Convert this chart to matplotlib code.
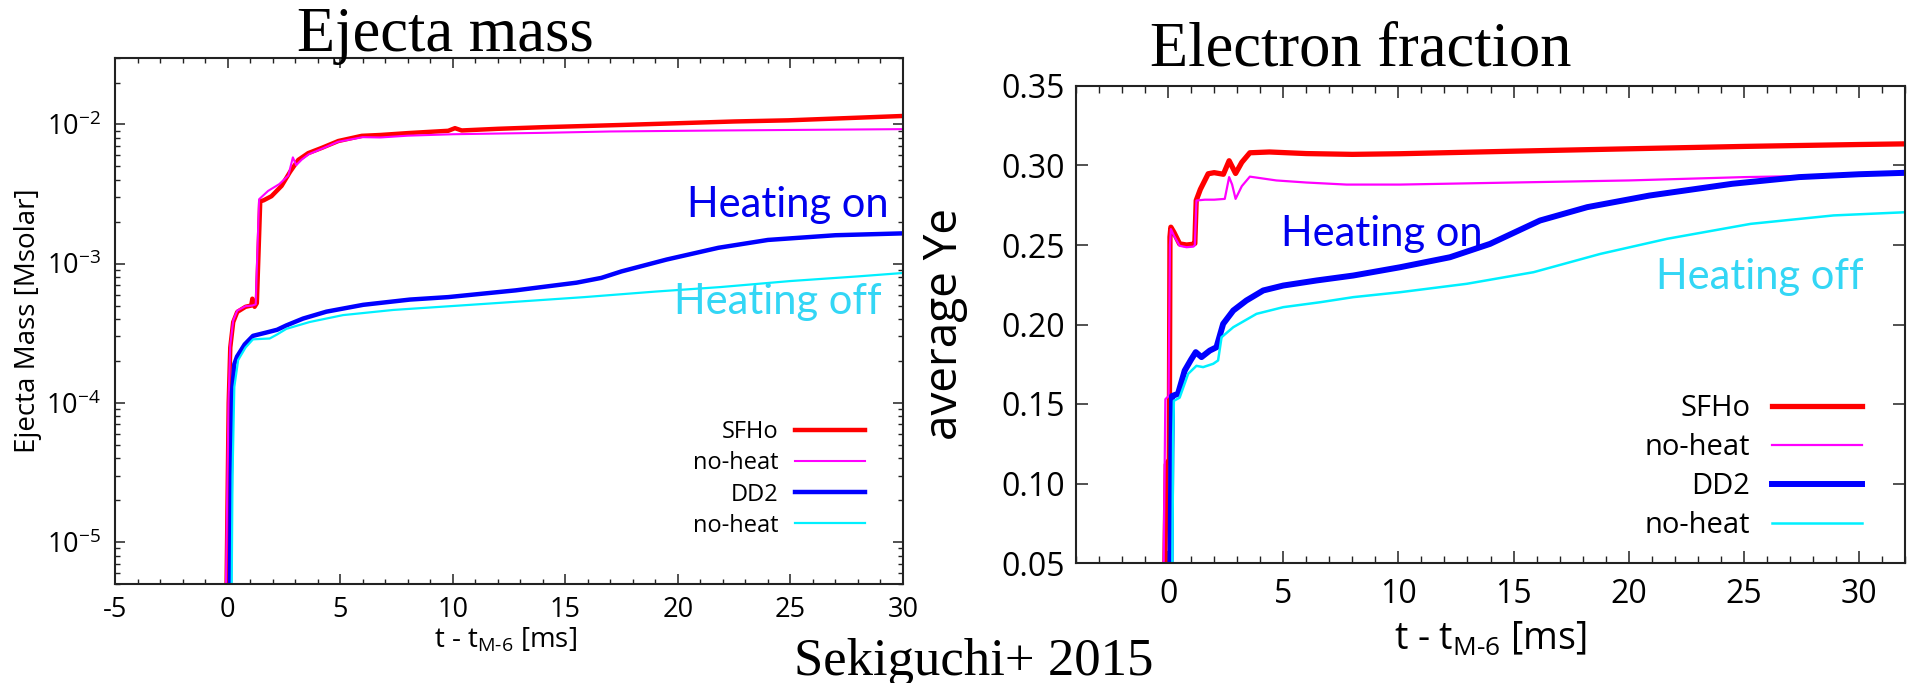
import matplotlib
matplotlib.use('Agg')
import matplotlib.pyplot as plt
from matplotlib.ticker import MultipleLocator, FormatStrFormatter

plt.rcParams['font.family'] = ['Open Sans', 'DejaVu Sans']
plt.rcParams['mathtext.fontset'] = 'custom'
plt.rcParams['mathtext.rm'] = 'Open Sans'
plt.rcParams['mathtext.it'] = 'Open Sans:italic'
plt.rcParams['mathtext.default'] = 'regular'
plt.rcParams['axes.unicode_minus'] = False

# ---- left panel: ejecta mass [Msolar] vs t - t_M-6 [ms]
sfho_t = [-0.05, 0.0, 0.05, 0.12, 0.25, 0.43, 0.8, 1.05, 1.1, 1.2, 1.3, 1.45, 1.6,
          1.95, 2.4, 2.77, 3.14, 3.58, 4.18, 4.92, 5.96, 6.8, 8.04, 9.8, 10.1,
          10.4, 12, 14, 17.4, 20, 22.5, 24.9, 27.5, 30]
sfho_m = [4e-6, 2e-5, 1e-4, 2.5e-4, 3.8e-4, 4.5e-4, 4.9e-4, 5.0e-4, 5.6e-4, 4.9e-4,
          5.2e-4, 2.8e-3, 2.85e-3, 3.05e-3, 3.62e-3, 4.55e-3, 5.56e-3, 6.22e-3,
          6.78e-3, 7.6e-3, 8.28e-3, 8.4e-3, 8.67e-3, 9.0e-3, 9.4e-3, 9.05e-3,
          9.3e-3, 9.55e-3, 9.9e-3, 1.02e-2, 1.05e-2, 1.07e-2, 1.11e-2, 1.15e-2]
sfho_nh_t = [-0.08, -0.02, 0.04, 0.12, 0.25, 0.43, 0.8, 1.1, 1.25, 1.4, 1.8, 2.3,
             2.7, 2.9, 3.05, 3.3, 3.6, 4.2, 4.9, 6.0, 6.8, 8.0, 10, 12, 14, 17,
             22, 26, 30]
sfho_nh_m = [4e-6, 2e-5, 1e-4, 2.6e-4, 3.9e-4, 4.6e-4, 4.95e-4, 5.0e-4, 5.1e-4,
             2.9e-3, 3.33e-3, 3.73e-3, 4.3e-3, 5.8e-3, 5.1e-3, 5.6e-3, 6.1e-3,
             6.7e-3, 7.5e-3, 8.1e-3, 8.06e-3, 8.3e-3, 8.5e-3, 8.6e-3, 8.7e-3,
             8.9e-3, 9.05e-3, 9.15e-3, 9.25e-3]
dd2_t = [0.1, 0.15, 0.2, 0.3, 0.42, 0.76, 1.13, 1.72, 2.2, 2.61, 3.35, 4.39, 6.02,
         8.1, 9.8, 12.8, 15.5, 16.6, 17.5, 19.5, 21.8, 24, 27, 30]
dd2_m = [4e-6, 3e-5, 1.2e-4, 1.9e-4, 2.15e-4, 2.63e-4, 3.03e-4, 3.2e-4, 3.35e-4,
         3.6e-4, 4.03e-4, 4.52e-4, 5.06e-4, 5.52e-4, 5.75e-4, 6.43e-4, 7.3e-4,
         7.9e-4, 8.8e-4, 1.07e-3, 1.3e-3, 1.48e-3, 1.6e-3, 1.65e-3]
dd2_nh_t = [0.18, 0.22, 0.3, 0.47, 0.8, 1.13, 1.5, 1.87, 2.2, 2.61, 3.0, 3.65, 5.13,
            7.36, 10.3, 13, 15.85, 19, 21.9, 25, 28, 30]
dd2_nh_m = [4e-6, 3e-5, 1.3e-4, 2.03e-4, 2.5e-4, 2.86e-4, 2.88e-4, 2.9e-4, 3.1e-4,
            3.4e-4, 3.55e-4, 3.81e-4, 4.27e-4, 4.65e-4, 5.0e-4, 5.35e-4, 5.75e-4,
            6.3e-4, 6.79e-4, 7.5e-4, 8.1e-4, 8.57e-4]

# ---- right panel: average Ye vs t - t_M-6 [ms]
sfho_ye_t = [-0.15, -0.08, 0.05, 0.08, 0.12, 0.25, 0.5, 0.8, 1.1, 1.16, 1.22, 1.4,
             1.74, 2.0, 2.4, 2.65, 2.93, 3.2, 3.55, 4.4, 6, 8, 10.07, 15, 20, 25,
             30, 32]
sfho_ye = [0.04, 0.112, 0.115, 0.255, 0.2612, 0.258, 0.2507, 0.250, 0.2505, 0.251,
           0.278, 0.285, 0.2948, 0.2955, 0.2945, 0.303, 0.295, 0.302, 0.308, 0.3085,
           0.3075, 0.307, 0.3074, 0.309, 0.3105, 0.312, 0.3132, 0.3136]
sfho_nh_ye_t = [-0.2, -0.12, 0.02, 0.08, 0.12, 0.25, 0.5, 0.8, 1.1, 1.16, 1.23, 1.6,
                2.0, 2.46, 2.65, 2.78, 2.93, 3.2, 3.55, 4.7, 6, 7.75, 10.07, 15, 20,
                25, 30, 32]
sfho_nh_ye = [0.04, 0.153, 0.155, 0.25, 0.26, 0.256, 0.2495, 0.2486, 0.249, 0.25,
              0.278, 0.2785, 0.2785, 0.279, 0.2927, 0.288, 0.279, 0.287, 0.293,
              0.2906, 0.2893, 0.288, 0.288, 0.2893, 0.2906, 0.2927, 0.294, 0.2945]
dd2_ye_t = [0.1, 0.14, 0.17, 0.43, 0.72, 1.0, 1.2, 1.45, 1.81, 2.1, 2.39, 2.83, 3.4,
            4.13, 5, 6.45, 8.04, 10.07, 12.24, 13.98, 16.15, 18.2, 20.9, 24.5, 27.4,
            30, 32]
dd2_ye = [0.04, 0.12, 0.155, 0.1564, 0.171, 0.178, 0.1826, 0.1795, 0.1836, 0.1857,
          0.2004, 0.2088, 0.2151, 0.2214, 0.2245, 0.2277, 0.2308, 0.236, 0.2423,
          0.2507, 0.2654, 0.2738, 0.2811, 0.2885, 0.2927, 0.2945, 0.2954]
dd2_nh_ye_t = [0.18, 0.22, 0.25, 0.5, 0.87, 1.23, 1.52, 1.96, 2.17, 2.32, 2.83, 3.84,
               5, 6.6, 8.04, 10.07, 12.97, 15.87, 18.77, 21.67, 25.3, 28.9, 32]
dd2_nh_ye = [0.04, 0.13, 0.152, 0.154, 0.169, 0.174, 0.1732, 0.1753, 0.1774, 0.192,
             0.1983, 0.2067, 0.2109, 0.214, 0.2172, 0.2203, 0.2256, 0.2329, 0.2444,
             0.2539, 0.2633, 0.2686, 0.2706]

labels = ['SFHo', 'no-heat', 'DD2', 'no-heat']
colors = ['#ff0000', '#ff00ff', '#0000ff', '#00f0ff']
xlab = r't - t$_{\mathrm{M}\text{-}\mathrm{6}}$ [ms]'

W, H = 1910, 683
fig = plt.figure(figsize=(W / 100, H / 100), dpi=100)
ax1 = fig.add_axes([115 / W, 1 - 584 / H, 788 / W, 526 / H])
ax2 = fig.add_axes([1076 / W, 1 - 563 / H, 829 / W, 477 / H])

# left
ax1.plot(sfho_t, sfho_m, color=colors[0], lw=3.2, label=labels[0])
ax1.plot(sfho_nh_t, sfho_nh_m, color=colors[1], lw=1.5, label=labels[1])
ax1.plot(dd2_t, dd2_m, color=colors[2], lw=3.2, label=labels[2])
ax1.plot(dd2_nh_t, dd2_nh_m, color=colors[3], lw=1.6, label=labels[3])
ax1.set_yscale('log')
ax1.set_xlim(-5, 30)
ax1.set_ylim(5e-6, 3e-2)
ax1.xaxis.set_major_locator(MultipleLocator(5))
ax1.xaxis.set_minor_locator(MultipleLocator(1))
ax1.tick_params(which='both', direction='in', top=True, right=True, colors='#222222')
ax1.tick_params(which='major', length=7.2, width=1.1, labelsize=19.5, labelcolor='black')
ax1.tick_params(which='minor', length=3.6, width=1.0)
ax1.tick_params(axis='x', which='major', pad=8.5)
ax1.tick_params(axis='y', which='major', pad=10)
ax1.set_ylabel('Ejecta Mass [Msolar]', fontsize=20)
ax1.yaxis.set_label_coords(-0.093, 0.5)
ax1.set_xlabel(xlab, fontsize=20)
ax1.xaxis.set_label_coords(0.496, -0.08)
ax1.legend(loc='upper right', bbox_to_anchor=(0.952, 0.311), frameon=False,
           markerfirst=False, handlelength=2.97, handletextpad=0.72,
           labelspacing=0.3, borderpad=0, borderaxespad=0, fontsize=17)
ax1.text(0.982, 0.698, 'Heating on', transform=ax1.transAxes, ha='right',
         va='baseline', color='#0000ee', fontsize=30, family=['Lato'])
ax1.text(0.973, 0.513, 'Heating off', transform=ax1.transAxes, ha='right',
         va='baseline', color='#33d6f5', fontsize=30, family=['Lato'])

# right
ax2.plot(sfho_ye_t, sfho_ye, color=colors[0], lw=3.8, label=labels[0])
ax2.plot(sfho_nh_ye_t, sfho_nh_ye, color=colors[1], lw=1.6, label=labels[1])
ax2.plot(dd2_ye_t, dd2_ye, color=colors[2], lw=4.3, label=labels[2])
ax2.plot(dd2_nh_ye_t, dd2_nh_ye, color=colors[3], lw=1.8, label=labels[3])
ax2.set_xlim(-4, 32)
ax2.set_ylim(0.05, 0.35)
ax2.xaxis.set_major_locator(MultipleLocator(5))
ax2.xaxis.set_minor_locator(MultipleLocator(1))
ax2.yaxis.set_major_locator(MultipleLocator(0.05))
ax2.yaxis.set_major_formatter(FormatStrFormatter('%.2f'))
ax2.tick_params(which='both', direction='in', top=True, right=True, colors='#222222')
ax2.tick_params(which='major', length=8.6, width=1.1, labelsize=23, labelcolor='black')
ax2.tick_params(which='minor', length=4.7, width=1.0)
ax2.tick_params(axis='x', which='major', pad=11)
ax2.tick_params(axis='y', which='major', pad=8)
ax2.set_ylabel('average Ye', fontsize=33)
ax2.yaxis.set_label_coords(-0.13, 0.5)
ax2.set_xlabel(xlab, fontsize=27)
ax2.xaxis.set_label_coords(0.4994, -0.121)
ax2.legend(loc='upper right', bbox_to_anchor=(0.948, 0.354), frameon=False,
           markerfirst=False, handlelength=3.08, handletextpad=0.75,
           labelspacing=0.34, borderpad=0, borderaxespad=0, fontsize=21)
ax2.text(0.247, 0.665, 'Heating on', transform=ax2.transAxes, ha='left',
         va='baseline', color='#0000ee', fontsize=30, family=['Lato'])
ax2.text(0.70, 0.574, 'Heating off', transform=ax2.transAxes, ha='left',
         va='baseline', color='#33d6f5', fontsize=30, family=['Lato'])

for ax in (ax1, ax2):
    for s in ax.spines.values():
        s.set_linewidth(1.5)
        s.set_color('#222222')

fig.text(445 / W, 1 - 51 / H, 'Ejecta mass', ha='center', va='baseline',
         family=['Liberation Serif'], fontsize=45)
fig.text(1361 / W, 1 - 66 / H, 'Electron fraction', ha='center', va='baseline',
         family=['Liberation Serif'], fontsize=45)
fig.text(974 / W, 1 - 675 / H, 'Sekiguchi+ 2015', ha='center', va='baseline',
         family=['Liberation Serif'], fontsize=38)

fig.savefig('out.png', dpi=100)
